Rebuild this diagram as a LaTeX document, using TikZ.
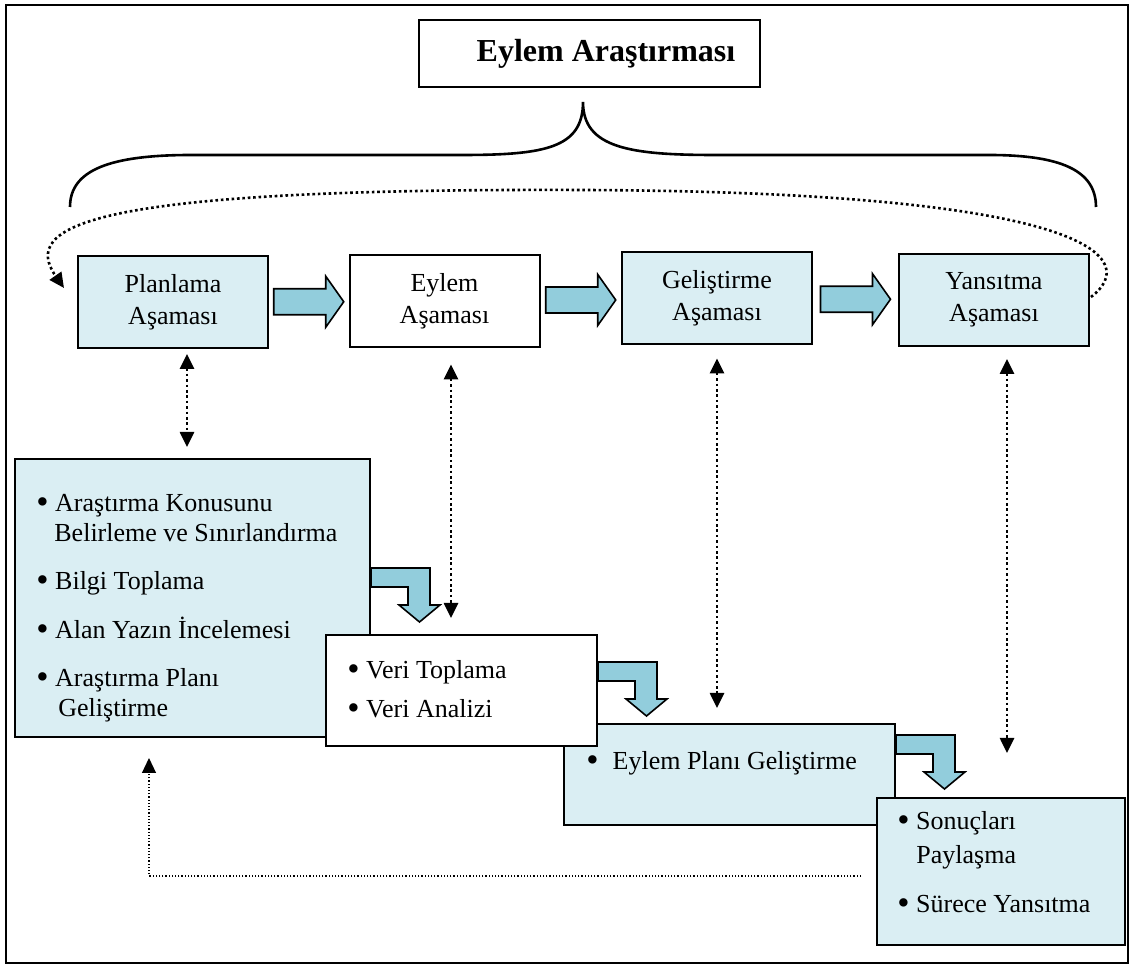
\documentclass[tikz,border=0pt]{standalone}
\usepackage{fontspec}
\setmainfont{Liberation Serif}
\usetikzlibrary{arrows.meta,calc}

\definecolor{boxblue}{HTML}{DAEEF3}
\definecolor{arrowblue}{HTML}{92CDDC}

\newcommand\bul{\raisebox{-0.04em}{\scalebox{1.35}{•}}}

\tikzset{
  framebox/.style={draw, line width=1pt, inner sep=0pt},
  phasebox/.style={framebox, minimum width=95pt, minimum height=46pt, align=center,
    font=\fontsize{13}{16}\selectfont},
  listtext/.style={anchor=base west, inner sep=0pt, font=\fontsize{13}{15}\selectfont},
  blockarrow/.style={draw, fill=arrowblue, line width=0.8pt, line join=miter},
  tip/.style={-{Triangle[length=7.5pt,width=7pt]}},
  dots/.style={line width=1.3pt, dash pattern=on 1.3pt off 1.4pt},
  linkarrow/.style={dots, {Triangle[length=7.5pt,width=7pt]}-{Triangle[length=7.5pt,width=7pt]}},
  pics/rightblock/.style={code={
    \draw[blockarrow] (-35,-13) -- (17,-13) -- (17,-25.5) -- (35,0) -- (17,25.5) -- (17,13) -- (-35,13) -- cycle;}},
  pics/bendblock/.style={code={
    \draw[blockarrow] (0,0) -- (59,0) -- (59,37) -- (69,37) -- (48.5,54) -- (28,37) -- (37,37) -- (37,19) -- (0,19) -- cycle;}},
}

\begin{document}
\begin{tikzpicture}[x=0.5pt,y=-0.5pt]
  \useasboundingbox (0,0) rectangle (1132,972);
  \draw[line width=1.3pt] (6,5) rectangle (1128,963);

  % title and brace
  \node[framebox, minimum width=170.5pt, minimum height=33.5pt,
    font=\fontsize{16}{18}\selectfont\bfseries] (title) at (589.5,53.5) {\hspace*{16.5pt}Eylem Araştırması};
  \draw[line width=1.3pt] (70,207) .. controls (70,170) and (110,155) .. (191,155) -- (462,155)
    .. controls (545,155) and (583,148) .. (583,102)
    .. controls (583,148) and (630,155) .. (715,155) -- (989,155)
    .. controls (1060,155) and (1096,170) .. (1096,207);

  % phases
  \node[phasebox, fill=boxblue] (plan) at (173,302) {Planlama\\Aşaması};
  \node[phasebox, fill=white] (eylem) at (444.5,301.5) {Eylem\\Aşaması};
  \node[phasebox, fill=boxblue] (gelis) at (717,298.5) {Geliştirme\\Aşaması};
  \node[phasebox, fill=boxblue] (yans) at (994,300) {Yansıtma\\Aşaması};

  \pic at ($(plan.east)!0.5!(eylem.west)$) {rightblock};
  \pic at ($(eylem.east)!0.5!(gelis.west)$) {rightblock};
  \pic at ($(gelis.east)!0.5!(yans.west)$) {rightblock};

  \draw[tip, dots] ($(yans.east)+(1,-3)$)
    .. controls (1140,260) and (1100,192) .. (583,190)
    .. controls (90,188) and (20,225) .. ($(plan.west)+(-13,-14)$);

  % lists
  \node[framebox, fill=boxblue, minimum width=177.5pt, minimum height=139pt] (planlist) at (192.5,598) {};
  \foreach \x/\y/\t [count=\i] in {36/512/\bul{} Araştırma Konusunu, 54/542/Belirleme ve Sınırlandırma,
      36/590/\bul{} Bilgi Toplama, 36/639/\bul{} Alan Yazın İncelemesi, 36/687/\bul{} Araştırma Planı, 58/717/Geliştirme}
    \node[listtext] (pl\i) at (\x,\y) {\t};

  \node[framebox, fill=boxblue, minimum width=165.5pt, minimum height=50.5pt] (eyplan) at (729.5,774.5) {};
  \node[listtext] (ep1) at (586,770) {\bul\hspace{7pt}Eylem Planı Geliştirme};

  \node[framebox, fill=white, minimum width=135.5pt, minimum height=55.5pt] (verilist) at (461.5,690.5) {};
  \foreach \y/\t [count=\i] in {679/\bul{} Veri Toplama, 718/\bul{} Veri Analizi}
    \node[listtext] (vl\i) at (347,\y) {\t};

  \node[framebox, fill=boxblue, minimum width=124pt, minimum height=73.5pt] (sonuc) at (1001,871.5) {};
  \foreach \x/\y/\t [count=\i] in {897/830/\bul{} Sonuçları, 916/864/Paylaşma, 897/913/\bul{} Sürece Yansıtma}
    \node[listtext] (sl\i) at (\x,\y) {\t};

  \pic at ($(planlist.north east)+(0,110)$) {bendblock};
  \pic at ($(verilist.north east)+(0,28)$) {bendblock};
  \pic at ($(eyplan.north east)+(0,12)$) {bendblock};

  % links between phases and lists
  \draw[linkarrow, shorten <=2.5pt, shorten >=5.5pt] ($(plan.south)+(14,0)$) -- ($(plan.south |- planlist.north)+(14,0)$);
  \draw[linkarrow, shorten <=8pt, shorten >=8pt] ($(eylem.south)+(6.5,0)$) -- ($(eylem.south |- verilist.north)+(6.5,0)$);
  \draw[linkarrow, shorten <=6.5pt, shorten >=7.5pt] (gelis.south) -- (gelis.south |- eyplan.north);
  \draw[linkarrow, shorten <=6pt, shorten >=22pt] ($(yans.south)+(13,0)$) -- ($(yans.south |- sonuc.north)+(13,0)$);

  \draw[tip, line width=0.6pt, densely dotted] ($(sonuc.west)+(-15,4.5)$) -| ($(planlist.south)+(-43.5,20)$);
\end{tikzpicture}
\end{document}
